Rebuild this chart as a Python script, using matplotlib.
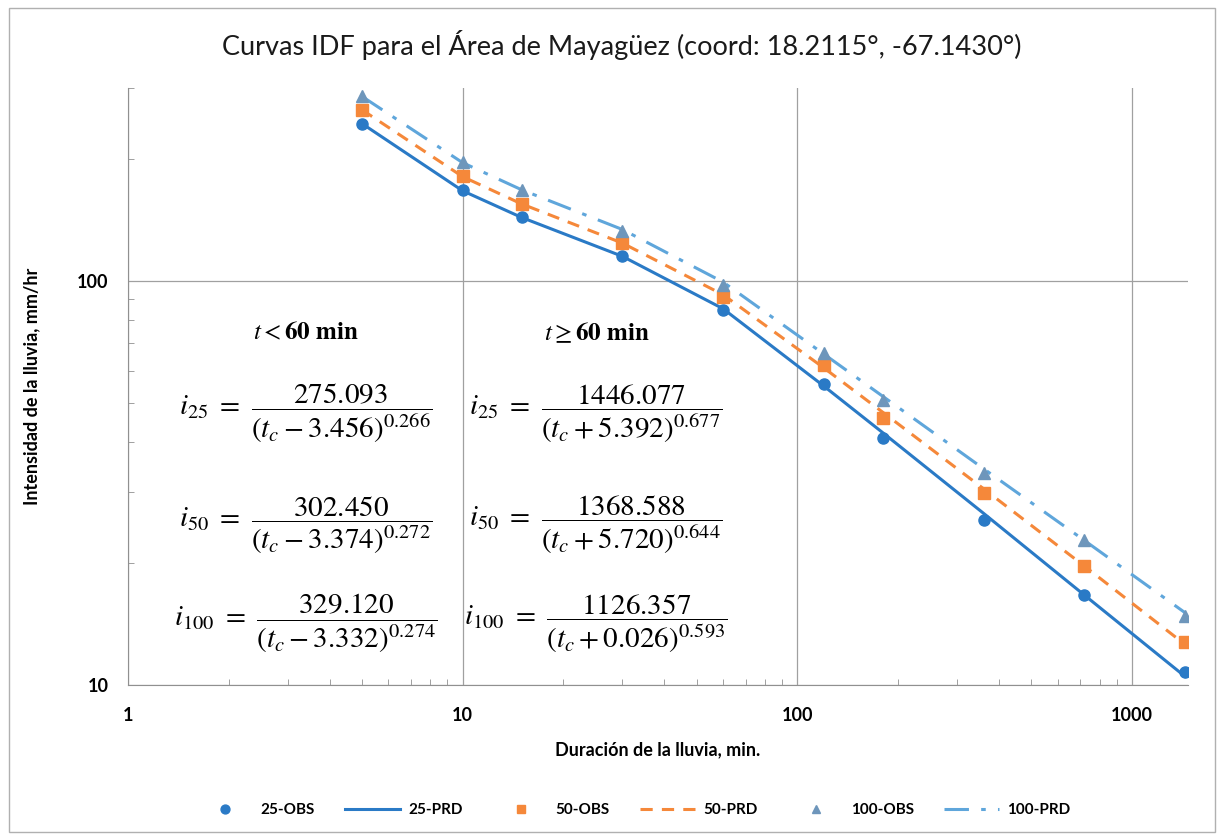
import matplotlib.pyplot as plt
from matplotlib.ticker import LogLocator, NullFormatter, FixedLocator, FixedFormatter

# Duraciones (min) y valores (mm/hr)
duracion = [5, 10, 15, 30, 60, 120, 180, 360, 720, 1440]

obs_25 = [245, 168, 144, 115, 84.5, 55.6, 40.8, 25.6, 16.7, 10.8]
prd_25 = [245, 167, 143.5, 115, 85.3, 54.9, 42.1, 26.6, 16.7, 10.5]

obs_50 = [265, 182, 155, 124, 91.3, 61.9, 45.7, 29.8, 19.7, 12.8]
prd_50 = [265, 181, 155, 124, 92.4, 60.9, 47.3, 30.6, 19.7, 12.6]

obs_100 = [287, 197, 168, 133, 97.7, 66.2, 50.6, 33.5, 22.8, 14.8]
prd_100 = [286, 196, 168, 134, 99.3, 65.9, 51.8, 34.3, 22.8, 15.1]

x_ticks = [1, 10, 100, 1000]
y_ticks = [10, 100]

azul = '#2a7ac6'
naranja = '#f5883a'
celeste = '#5fa6db'
gris_azul = '#6e96bb'

plt.rcParams['font.family'] = ['Lato', 'DejaVu Sans']
plt.rcParams['mathtext.fontset'] = 'stix'

fig = plt.figure(figsize=(12.24, 8.35), dpi=100)
ax = fig.add_axes([0.1046, 0.1796, 0.866, 0.715])

ax.plot(duracion, obs_25, 'o', color=azul, ms=8, label='25-OBS', zorder=4)
ax.plot(duracion, prd_25, '-', color=azul, lw=2.2, label='25-PRD', zorder=3)
ax.plot(duracion, obs_50, 's', color=naranja, ms=8, label='50-OBS', zorder=4)
ax.plot(duracion, prd_50, '--', color=naranja, lw=2.2, dashes=(4, 3), label='50-PRD', zorder=3)
ax.plot(duracion, obs_100, '^', color=gris_azul, ms=8, label='100-OBS', zorder=4)
ax.plot(duracion, prd_100, '-.', color=celeste, lw=2.2, dashes=(8, 4, 1.5, 4), label='100-PRD', zorder=3)

ax.set_xscale('log')
ax.set_yscale('log')
ax.set_xlim(1, 1470)
ax.set_ylim(10, 300)

ax.xaxis.set_major_locator(FixedLocator(x_ticks))
ax.xaxis.set_major_formatter(FixedFormatter([str(v) for v in x_ticks]))
ax.yaxis.set_major_locator(FixedLocator(y_ticks))
ax.yaxis.set_major_formatter(FixedFormatter([str(v) for v in y_ticks]))
ax.xaxis.set_minor_locator(LogLocator(base=10, subs=range(2, 10)))
ax.yaxis.set_minor_locator(LogLocator(base=10, subs=range(2, 10)))
ax.xaxis.set_minor_formatter(NullFormatter())
ax.yaxis.set_minor_formatter(NullFormatter())

ax.grid(True, which='major', color='#a0a0a0', lw=0.9)
ax.tick_params(which='major', length=0, labelsize=13)
ax.tick_params(axis='x', which='major', pad=16)
ax.tick_params(axis='y', which='major', pad=14)
ax.tick_params(which='minor', direction='in', length=4, color='#909090')
for lab in ax.get_xticklabels() + ax.get_yticklabels():
    lab.set_fontweight('bold')

for s in ['top', 'right']:
    ax.spines[s].set_visible(False)
for s in ['left', 'bottom']:
    ax.spines[s].set_color('#909090')

fig.suptitle('Curvas IDF para el Área de Mayagüez (coord: 18.2115°, -67.1430°)',
             fontsize=19.5, x=0.508, y=0.946, va='center', color='#1a1a1a')
ax.set_xlabel('Duración de la lluvia, min.', fontsize=13, fontweight='bold', labelpad=12)
ax.set_ylabel('Intensidad de la lluvia, mm/hr', fontsize=13, fontweight='bold')
ax.yaxis.set_label_coords(-0.083, 0.5)

# Ecuaciones
ax.text(0.168, 0.591, r'$\mathbf{\mathit{t}} < \mathbf{60\ min}$', transform=ax.transAxes,
        fontsize=18, ha='center', va='center')
ax.text(0.4425, 0.591, r'$\mathbf{\mathit{t}} \geq \mathbf{60\ min}$', transform=ax.transAxes,
        fontsize=18, ha='center', va='center')

eq_izq = [r'$i_{25}\ =\ \dfrac{275.093}{(t_c - 3.456)^{0.266}}$',
          r'$i_{50}\ =\ \dfrac{302.450}{(t_c - 3.374)^{0.272}}$',
          r'$i_{100}\ =\ \dfrac{329.120}{(t_c - 3.332)^{0.274}}$']
eq_der = [r'$i_{25}\ =\ \dfrac{1446.077}{(t_c + 5.392)^{0.677}}$',
          r'$i_{50}\ =\ \dfrac{1368.588}{(t_c + 5.720)^{0.644}}$',
          r'$i_{100}\ =\ \dfrac{1126.357}{(t_c + 0.026)^{0.593}}$']
y_eq = [0.455, 0.268, 0.103]
for txt, yy in zip(eq_izq, y_eq):
    ax.text(0.168, yy, txt, transform=ax.transAxes, fontsize=21, ha='center', va='center')
for txt, yy in zip(eq_der, y_eq):
    ax.text(0.441, yy, txt, transform=ax.transAxes, fontsize=21, ha='center', va='center')

leg = fig.legend(loc='lower center', ncol=6, frameon=False, bbox_to_anchor=(0.518, 0.005),
                 fontsize=11, handlelength=3.6, handletextpad=0.5, columnspacing=2.0,
                 markerscale=0.8)
for t in leg.get_texts():
    t.set_fontweight('bold')

# Marco del grafico
fig.patches.append(plt.Rectangle((0.007, 0.003), 0.986, 0.988, transform=fig.transFigure,
                                 fill=False, edgecolor='#b0b0b0', lw=1))

fig.savefig('out.png', dpi=100)
